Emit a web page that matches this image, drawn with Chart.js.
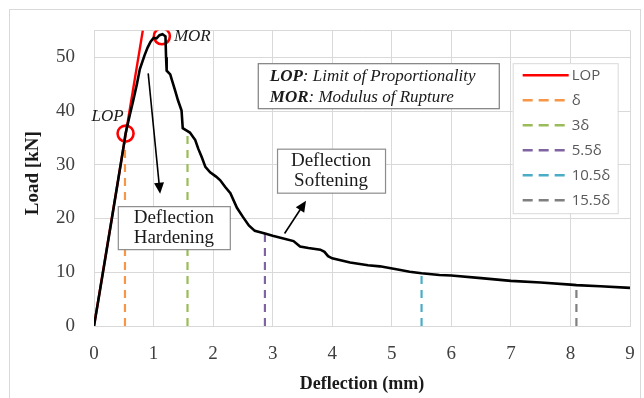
<!DOCTYPE html>
<html>
<head>
<meta charset="utf-8">
<script src="https://cdn.jsdelivr.net/npm/chart.js@4.4.0/dist/chart.umd.min.js"></script>
<style>
  html, body { margin: 0; padding: 0; background: #fff; }
</style>
</head>
<body>
<canvas id="chartStuff" width="644" height="398"></canvas>
<script>
// load-deflection record of the beam (mm, kN)
var deflection = [0, 0.1, 0.2, 0.3, 0.4, 0.5, 0.53, 0.6, 0.66, 0.72, 0.77, 0.85, 0.9, 0.95, 1.0, 1.05, 1.1, 1.15, 1.2,
  1.21, 1.22, 1.28, 1.31, 1.36, 1.41, 1.47, 1.49, 1.55, 1.61, 1.7, 1.75, 1.81, 1.87, 1.95, 2.05, 2.12, 2.2, 2.29,
  2.4, 2.5, 2.6, 2.7, 2.87, 3.0, 3.18, 3.35, 3.46, 3.6, 3.8, 3.87, 3.93, 4.0, 4.3, 4.6, 4.8, 5.1, 5.3, 5.5, 5.8,
  6.0, 6.5, 7.0, 7.5, 8.0, 8.1, 8.5, 9.0];
var load = [0, 6.6, 13.3, 20.0, 26.8, 33.6, 35.8, 39.2, 42.0, 45.0, 47.8, 50.4, 51.8, 52.9, 53.6, 53.5, 54.1, 54.3, 53.9,
  50.0, 47.5, 46.8, 45.7, 43.9, 42.0, 40.1, 36.8, 36.4, 36.0, 34.6, 33.0, 31.4, 29.6, 28.6, 27.8, 27.1, 25.9, 24.7,
  22.0, 20.3, 18.7, 17.7, 17.2, 16.8, 16.3, 15.8, 14.8, 14.5, 14.2, 13.8, 13.0, 12.6, 11.8, 11.3, 11.1, 10.5, 10.1, 9.8, 9.5,
  9.4, 8.9, 8.4, 8.1, 7.7, 7.6, 7.4, 7.1];

// straight line used to find the limit of proportionality
var lopLineX = [0, 0.82];
var lopLineY = [0, 55];

// LOP and MOR points
var circleNames = ['LOP', 'MOR'];
var circleX = [0.53, 1.14];
var circleY = [35.8, 53.9];

// deflection marks at multiples of delta
var markNames = ['\u03b4', '3\u03b4', '5.5\u03b4', '10.5\u03b4', '15.5\u03b4'];
var markX = [0.52, 1.57, 2.87, 5.5, 8.1];
var markTop = [35.6, 36.0, 17.2, 9.8, 7.7];
var markColors = ['#F79646', '#9BBB59', '#8064A2', '#4BACC6', '#7F7F7F'];

var xTicks = [0, 1, 2, 3, 4, 5, 6, 7, 8, 9];
var yTicks = [0, 10, 20, 30, 40, 50, 55];

var serif = "'Liberation Serif', 'Times New Roman', serif";
Chart.defaults.font.family = serif;

function pts(xs, ys) {
  return xs.map(function (x, i) { return {x: x, y: ys[i]}; });
}

var datasets = [
  {label: 'curve', data: pts(deflection, load), showLine: true, borderColor: '#000', borderWidth: 2.6,
    pointRadius: 0, tension: 0, inLegend: false},
  {label: 'LOP', data: pts(lopLineX, lopLineY), showLine: true, borderColor: '#FF0000', borderWidth: 2.4,
    pointRadius: 0, inLegend: true}
];
markNames.forEach(function (name, i) {
  datasets.push({label: name, data: pts([markX[i], markX[i]], [0, markTop[i]]), showLine: true,
    borderColor: markColors[i], borderWidth: 2.2, borderDash: [8, 6], pointRadius: 0, inLegend: true});
});
datasets.push({label: 'points', data: pts(circleX, circleY), showLine: false, pointRadius: 8,
  pointBorderColor: '#FF0000', pointBackgroundColor: 'rgba(0,0,0,0)', pointBorderWidth: 2.6, inLegend: false});

function arrow(ctx, x1, y1, x2, y2) {
  var a = Math.atan2(y2 - y1, x2 - x1);
  ctx.strokeStyle = '#000';
  ctx.fillStyle = '#000';
  ctx.lineWidth = 1.6;
  ctx.beginPath();
  ctx.moveTo(x1, y1);
  ctx.lineTo(x2 - 9 * Math.cos(a), y2 - 9 * Math.sin(a));
  ctx.stroke();
  ctx.beginPath();
  ctx.moveTo(x2, y2);
  ctx.lineTo(x2 - 11 * Math.cos(a) + 5 * Math.sin(a), y2 - 11 * Math.sin(a) - 5 * Math.cos(a));
  ctx.lineTo(x2 - 11 * Math.cos(a) - 5 * Math.sin(a), y2 - 11 * Math.sin(a) + 5 * Math.cos(a));
  ctx.closePath();
  ctx.fill();
}

function textBox(ctx, cx, cy, w, h, lines) {
  ctx.fillStyle = '#fff';
  ctx.fillRect(cx - w / 2, cy - h / 2, w, h);
  ctx.strokeStyle = '#8C8C8C';
  ctx.lineWidth = 1.2;
  ctx.strokeRect(cx - w / 2 + 0.5, cy - h / 2 + 0.5, w, h);
  ctx.fillStyle = '#1a1a1a';
  ctx.font = '19px ' + serif;
  ctx.textAlign = 'center';
  ctx.textBaseline = 'middle';
  ctx.fillText(lines[0], cx, cy - 10);
  ctx.fillText(lines[1], cx, cy + 10);
}

var notes = {
  id: 'notes',
  beforeDraw: function (chart) {
    var ctx = chart.ctx;
    ctx.save();
    ctx.fillStyle = '#fff';
    ctx.fillRect(0, 0, chart.width, chart.height);
    ctx.strokeStyle = '#D9D9D9';
    ctx.lineWidth = 1;
    ctx.strokeRect(9.5, 9.5, 631, 400);
    ctx.restore();
  },
  afterDatasetsDraw: function (chart) {
    var ctx = chart.ctx;
    var xs = chart.scales.x, ys = chart.scales.y;
    function px(v) { return xs.getPixelForValue(v); }
    function py(v) { return ys.getPixelForValue(v); }
    ctx.save();

    // labels next to the circles
    ctx.fillStyle = '#1a1a1a';
    ctx.font = 'italic 17px ' + serif;
    ctx.textBaseline = 'middle';
    ctx.textAlign = 'right';
    ctx.fillText(circleNames[0], px(circleX[0]) - 2, py(circleY[0]) - 17);
    ctx.textAlign = 'left';
    ctx.fillText(circleNames[1], px(circleX[1]) + 12, py(circleY[1]));

    // abbreviation box
    var bx = px(2.75), by = py(48.9);
    ctx.fillStyle = '#fff';
    ctx.fillRect(bx, by, 241, 45);
    ctx.strokeStyle = '#7F7F7F';
    ctx.lineWidth = 1.2;
    ctx.strokeRect(bx + 0.5, by + 0.5, 241, 45);
    ctx.fillStyle = '#1a1a1a';
    [['LOP', ': Limit of Proportionality'], ['MOR', ': Modulus of Rupture']].forEach(function (row, i) {
      var y = by + 13 + i * 21;
      ctx.font = 'bold italic 17px ' + serif;
      ctx.fillText(row[0], bx + 12, y);
      var w = ctx.measureText(row[0]).width;
      ctx.font = 'italic 17px ' + serif;
      ctx.fillText(row[1], bx + 12 + w, y);
    });

    // hardening / softening notes
    arrow(ctx, px(0.91), py(47.0), px(1.11), py(24.6));
    arrow(ctx, px(3.2), py(17.2), px(3.56), py(23.3));
    textBox(ctx, px(1.34), py(18.3), 112, 43, ['Deflection', 'Hardening']);
    textBox(ctx, px(3.98), py(28.9), 108, 44, ['Deflection', 'Softening']);

    // legend
    var lx = px(7.03), ly = py(48.9);
    ctx.fillStyle = '#fff';
    ctx.fillRect(lx, ly, 105, 150);
    ctx.strokeStyle = '#D9D9D9';
    ctx.lineWidth = 1;
    ctx.strokeRect(lx + 0.5, ly + 0.5, 105, 150);
    var row = 0;
    chart.data.datasets.forEach(function (ds) {
      if (!ds.inLegend) return;
      var y = ly + 12 + row * 25;
      ctx.strokeStyle = ds.borderColor;
      ctx.lineWidth = 2.4;
      ctx.setLineDash(ds.borderDash ? [10, 6] : []);
      ctx.beginPath();
      ctx.moveTo(lx + 10, y);
      ctx.lineTo(lx + 56, y);
      ctx.stroke();
      ctx.setLineDash([]);
      ctx.fillStyle = '#595959';
      ctx.font = "15px 'Open Sans', 'Noto Sans', sans-serif";
      ctx.textAlign = 'left';
      ctx.fillText(ds.label, lx + 59, y + 1);
      row++;
    });

    // y axis title
    ctx.translate(33, (chart.chartArea.top + chart.chartArea.bottom) / 2 - 5);
    ctx.rotate(-Math.PI / 2);
    ctx.fillStyle = '#1a1a1a';
    ctx.font = 'bold 19px ' + serif;
    ctx.textAlign = 'center';
    ctx.fillText('Load [kN]', 0, 0);
    ctx.restore();
  }
};

var ctx = document.getElementById('chartStuff').getContext('2d');
var myChart = new Chart(ctx, {
  type: 'scatter',
  data: {datasets: datasets},
  plugins: [notes],
  options: {
    responsive: false,
    animation: false,
    layout: {padding: {top: 29, right: 14, bottom: 3, left: 10}},
    plugins: {legend: {display: false}, tooltip: {enabled: false}},
    scales: {
      x: {
        type: 'linear', min: 0, max: 9,
        afterBuildTicks: function (s) { s.ticks = xTicks.map(function (v) { return {value: v}; }); },
        afterFit: function (s) { s.height = 69; s.paddingLeft = 0; s.paddingRight = 0; },
        grid: {color: '#D9D9D9', drawTicks: false},
        border: {color: '#D9D9D9'},
        ticks: {color: '#404040', font: {size: 19}, padding: 17, maxRotation: 0},
        title: {display: true, text: 'Deflection (mm)', color: '#1a1a1a',
          font: {size: 18, weight: 'bold'}, padding: {top: 0, bottom: 0}}
      },
      y: {
        type: 'linear', min: 0, max: 55,
        afterBuildTicks: function (s) { s.ticks = yTicks.map(function (v) { return {value: v}; }); },
        afterFit: function (s) { s.width = 84; },
        grid: {color: '#D9D9D9', drawTicks: false},
        border: {color: '#D9D9D9'},
        ticks: {color: '#404040', font: {size: 19}, padding: 19,
          callback: function (v) { return v % 10 === 0 ? v : ''; }}
      }
    }
  }
});
</script>
</body>
</html>
